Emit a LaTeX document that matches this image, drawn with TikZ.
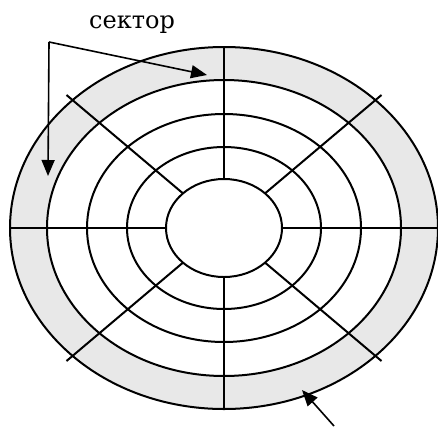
\documentclass[tikz,border=0pt]{standalone}
\usepackage{fontspec}
\setmainfont{DejaVu Serif}
\usetikzlibrary{arrows.meta,calc}
\tikzset{
  ring/.style={line width=2pt},
  spoke/.style={line width=2pt},
  pointer/.style={line width=1.6pt,-{Triangle[length=16pt,width=13pt]}},
  band/.style={fill=black!9,even odd rule}
}
\begin{document}
\begin{tikzpicture}[x=1pt,y=-1pt]
\useasboundingbox (0,0) rectangle (438,426);
\coordinate (c) at (224,228);
% shaded outer band
\path[band] (c) ellipse [x radius=214,y radius=181] (c) ellipse [x radius=177,y radius=148];
% spokes
\draw[spoke] (224,47) -- (224,179);
\draw[spoke] (224,277) -- (224,409);
\draw[spoke] (10,228) -- (166,228);
\draw[spoke] (282,228) -- (438,228);
\draw[spoke] ($(c)+(41,-34.6)$) -- ($(c)+(157.5,-133)$);
\draw[spoke] ($(c)+(-41,-34.6)$) -- ($(c)+(-157.5,-133)$);
\draw[spoke] ($(c)+(41,34.6)$) -- ($(c)+(157.5,133)$);
\draw[spoke] ($(c)+(-41,34.6)$) -- ($(c)+(-157.5,133)$);
% rings
\draw[ring] (c) ellipse [x radius=58,y radius=49];
\draw[ring] (c) ellipse [x radius=97,y radius=81];
\draw[ring] (c) ellipse [x radius=137,y radius=114];
\draw[ring] (c) ellipse [x radius=177,y radius=148];
\draw[ring] (c) ellipse [x radius=214,y radius=181];
% label and pointers
\node[anchor=base,font=\fontsize{24}{27}\selectfont] (lbl) at (132,28) {сектор};
\coordinate (corner) at (49,42);
\coordinate (tipA) at (207,75);
\coordinate (tipB) at (48,176);
\coordinate (tail) at (334,426);
\coordinate (tipC) at (302,390);
\draw[pointer] (corner) -- (tipA);
\draw[pointer] (corner) -- (tipB);
\draw[pointer] (tail) -- (tipC);
\end{tikzpicture}
\end{document}
